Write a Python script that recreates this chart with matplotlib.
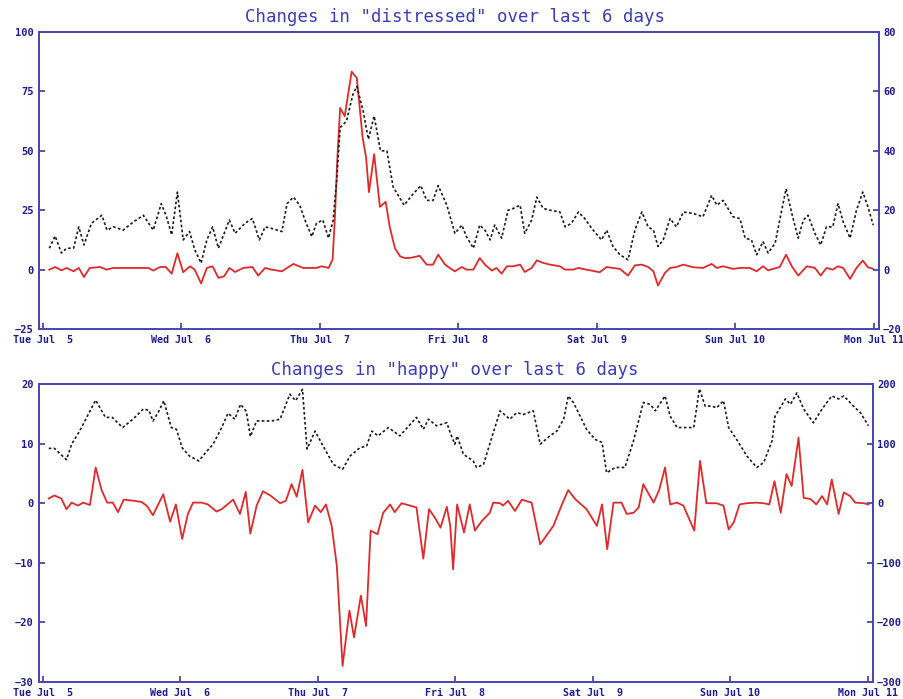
import numpy as np
import matplotlib
matplotlib.use('Agg')
import matplotlib.pyplot as plt

## eixo x: horas desde Tue Jul 5 00:00
dias = ['Tue Jul  5', 'Wed Jul  6', 'Thu Jul  7', 'Fri Jul  8',
        'Sat Jul  9', 'Sun Jul 10', 'Mon Jul 11']
horas_dias = [0, 24, 48, 72, 96, 120, 144]

## "distressed" - variacao (eixo esquerdo)
dist_h = [1.1, 2.1, 3.2, 4.1, 5.3, 6.2, 7.1, 8.1, 9.9, 11.0, 12.2, 18.3, 19.1, 20.3, 21.3,
          22.3, 23.3, 24.3, 25.5, 26.3, 27.4, 28.4, 29.4, 30.4, 31.4, 32.3, 33.3, 34.7,
          36.3, 37.3, 38.5, 39.6, 41.4, 43.4, 45.1, 47.4, 48.3, 49.5, 50.2, 50.6, 51.0,
          51.5, 52.3, 53.5, 54.4, 55.4, 56.0, 56.5, 57.4, 58.4, 59.4, 60.1, 61.0, 61.9,
          62.7, 63.6, 65.3, 66.5, 67.6, 68.5, 69.7, 70.5, 71.4, 72.6, 73.4, 74.6, 75.7,
          76.6, 77.8, 78.6, 79.5, 80.4, 81.5, 82.7, 83.5, 84.7, 85.6, 86.7, 87.9, 89.6,
          90.5, 91.9, 92.8, 94.2, 96.5, 97.7, 98.8, 100.0, 101.4, 102.6, 103.8, 104.9,
          105.8, 106.6, 107.8, 108.7, 109.8, 111.0, 112.7, 114.4, 115.9, 116.8, 117.9,
          119.6, 120.8, 122.5, 123.7, 124.8, 125.7, 127.7, 128.8, 129.8, 130.9, 132.4,
          133.8, 134.8, 135.8, 136.9, 137.8, 138.7, 139.9, 141.0, 142.1, 143.0, 143.9]
dist_v = [0, 1.1, -0.3, 0.7, -0.7, 0.7, -3.1, 0.7, 1.1, 0, 0.7, 0.7, -0.4, 1.1, 1.1,
          -1.7, 6.9, -1.1, 1.4, 0, -5.8, 0.7, 1.4, -3.5, -2.8, 0.7, -1.0, 0.7,
          1.1, -2.5, 0.7, 0, -0.7, 2.4, 0.7, 0.7, 1.4, 0.7, 4.2, 22.2, 45.8,
          68.0, 64.6, 83.3, 80.6, 55.6, 47.2, 32.6, 48.6, 26.4, 28.5, 18.0, 9.0, 5.6,
          4.9, 4.9, 5.8, 2.1, 2.1, 6.3, 2.1, 0.7, -0.7, 1.1, 0, 0, 4.9,
          2.1, -0.4, 0.7, -1.7, 1.4, 1.4, 2.1, -1.0, 0.7, 3.9, 2.8, 2.1, 1.4,
          0, 0, 0.7, 0, -1.1, 1.1, 0.7, 0.3, -2.5, 1.8, 2.1, 1.1,
          -0.7, -6.7, -1.4, 0.7, 1.1, 2.1, 1.0, 0.7, 2.4, 0.7, 1.4,
          0.3, 0.7, 0.7, -0.7, 1.4, -0.3, 1.1, 6.3, 1.4, -2.5, 1.4,
          0.7, -2.5, 0.7, 0, 1.4, 0.7, -3.9, 0.7, 3.8, 1.0, 0.3]

## "distressed" - volume (eixo direito)
dist_vol_h = [1.1, 2.1, 3.2, 4.1, 5.3, 6.2, 7.1, 8.4, 10.2, 11.1, 12.2, 13.9, 15.7, 17.4,
              19.1, 20.5, 21.4, 22.3, 23.3, 24.3, 25.4, 26.3, 27.4, 28.4, 29.4, 30.4,
              32.3, 33.3, 35.0, 36.3, 37.5, 38.5, 39.6, 41.4, 42.3, 43.4, 44.5, 45.4,
              46.6, 47.4, 48.5, 49.5, 50.3, 50.9, 51.5, 52.6, 53.7, 54.4, 55.5, 56.4,
              57.4, 58.5, 59.6, 60.7, 62.6, 64.2, 65.5, 66.5, 67.6, 68.5, 70.0, 71.4,
              72.6, 73.4, 74.6, 75.7, 76.6, 77.5, 78.3, 79.5, 80.6, 81.5, 82.7, 83.5,
              84.7, 85.6, 86.7, 87.9, 89.6, 90.5, 91.6, 92.8, 93.9, 95.1, 96.8, 97.7,
              98.8, 100.0, 101.4, 102.6, 103.8, 104.9, 105.8, 106.6, 107.5, 108.7,
              109.8, 111.0, 112.7, 114.4, 115.9, 116.8, 117.9, 119.6, 120.8, 121.7,
              122.8, 123.7, 124.8, 125.7, 126.9, 127.7, 128.8, 129.8, 130.9, 131.8,
              132.6, 133.8, 134.8, 135.8, 136.9, 137.8, 138.7, 139.9, 141.0, 142.1,
              143.0, 143.9]
dist_vol_v = [7.2, 11.3, 5.6, 7.2, 7.2, 14.4, 8.3, 15.6, 18.3, 13.3, 14.4, 13.3, 16.1, 18.3,
              13.3, 22.2, 17.8, 11.7, 26.1, 10.0, 12.8, 6.7, 2.2, 10.0, 14.4, 7.2,
              16.7, 12.2, 15.6, 17.2, 10.0, 14.4, 13.9, 12.8, 22.2, 24.4, 21.7, 16.7,
              11.1, 15.6, 16.7, 10.6, 16.7, 30.0, 47.8, 50.0, 58.9, 61.7, 53.3, 43.9,
              51.7, 40.0, 40.0, 27.8, 21.7, 25.6, 28.3, 23.3, 23.3, 28.3, 21.7, 12.2,
              15.0, 11.1, 7.2, 15.0, 13.3, 10.0, 15.0, 10.6, 20.0, 20.6, 21.7, 12.2,
              16.7, 24.4, 20.6, 20.0, 19.4, 14.4, 15.6, 19.4, 17.2, 13.9, 10.0, 13.3,
              7.8, 5.0, 3.3, 13.3, 19.4, 14.4, 13.3, 7.8, 10.0, 17.2,
              14.4, 19.4, 18.9, 17.8, 25.0, 21.7, 23.3, 17.8, 17.2, 10.6,
              10.0, 5.0, 9.4, 5.6, 8.9, 16.7, 27.2, 18.9, 10.6, 16.7,
              18.3, 12.2, 8.3, 14.4, 14.4, 22.2, 16.1, 10.6, 20.0, 26.1,
              21.1, 15.0]

## "happy" - variacao (eixo esquerdo)
happy_h = [1.0, 2.0, 3.2, 4.1, 5.0, 6.1, 7.0, 8.2, 9.2, 10.2, 11.2, 12.2, 13.1, 14.1, 16.0,
           17.2, 18.1, 19.2, 21.0, 22.2, 23.2, 24.3, 25.3, 26.2, 27.7, 28.8, 30.3, 31.2,
           33.2, 34.4, 35.4, 36.2, 37.3, 38.4, 39.7, 41.4, 42.4, 43.4, 44.3, 45.3, 46.3,
           47.5, 48.5, 49.4, 50.4, 51.3, 51.7, 52.3, 53.5, 54.3, 55.5, 56.4, 57.2, 58.4,
           59.4, 60.6, 61.4, 62.6, 64.1, 65.2, 66.4, 67.4, 68.4, 69.4, 70.5, 71.1, 71.6,
           72.3, 73.5, 74.5, 75.4, 76.6, 78.0, 78.6, 79.8, 80.3, 81.2, 82.4, 83.6, 85.3,
           86.8, 89.1, 90.6, 91.7, 92.9, 94.9, 96.7, 97.6, 98.5, 99.6, 101.0, 101.9,
           103.1, 104.0, 104.8, 106.6, 107.6, 108.6, 109.5, 110.7, 111.8, 113.7, 114.7,
           115.8, 117.6, 118.8, 119.7, 120.6, 121.6, 122.9, 124.6, 125.8, 126.8, 127.7,
           128.8, 129.8, 130.7, 131.9, 132.8, 134.0, 135.0, 136.0, 136.9, 137.7, 138.9,
           139.8, 140.9, 141.8, 143.3, 144.1]
happy_v = [0.8, 1.3, 0.8, -1.0, 0.1, -0.4, 0.1, -0.3, 6.0, 2.3, 0.1, 0.1, -1.5, 0.6, 0.4,
           0.2, -0.4, -2.0, 1.5, -3.1, -0.2, -6.0, -1.8, 0.1, 0.1, -0.2, -1.4, -1.0,
           0.6, -1.8, 1.9, -5.1, -0.4, 2.0, 1.3, 0, 0.4, 3.2, 1.1, 5.6, -3.2,
           -0.4, -1.5, -0.2, -3.8, -10.5, -17.2, -27.3, -18.0, -22.5, -15.5, -20.6, -4.6, -5.2,
           -1.6, -0.2, -1.5, 0, -0.4, -0.7, -9.3, -1.0, -2.4, -4.1, -0.6, -3.8, -11.1,
           -0.2, -4.9, -0.2, -4.6, -3.0, -1.6, 0.1, 0, -0.4, 0.4, -1.3, 0.6, 0.1,
           -6.9, -3.8, -0.2, 2.2, 0.7, -1.0, -3.8, -0.2, -7.7, 0.1, 0.1, -1.8,
           -1.6, -0.7, 3.2, 0.1, 2.3, 6.0, -0.2, 0.1, -0.4, -4.6, 7.1,
           0, 0, -0.4, -4.4, -3.2, -0.2, 0, 0.1, 0, -0.2, 3.7,
           -1.6, 4.9, 2.9, 11.0, 0.9, 0.7, -0.2, 1.2, -0.2, 4.0, -1.8,
           1.8, 1.2, 0.1, 0, -0.2]

## "happy" - volume (eixo direito)
happy_vol_h = [1.0, 2.0, 4.1, 5.0, 6.4, 7.9, 9.2, 10.9, 12.1, 13.9, 15.7, 17.5, 18.5, 19.2,
               20.1, 21.1, 22.4, 23.3, 24.3, 25.6, 27.2, 28.4, 29.7, 31.2, 32.3, 33.5,
               34.5, 35.5, 36.2, 37.3, 38.7, 39.9, 41.4, 43.1, 44.1, 45.3, 46.1, 47.5,
               48.9, 50.7, 52.3, 53.6, 55.3, 56.5, 57.4, 58.5, 60.3, 62.3, 65.2, 66.4,
               67.3, 68.7, 70.5, 71.1, 71.9, 72.3, 73.4, 75.1, 75.7, 76.9, 78.6, 79.8,
               81.5, 82.7, 83.9, 85.6, 86.8, 88.5, 89.7, 90.9, 91.7, 92.6, 94.9, 96.4,
               97.6, 98.4, 99.9, 101.6, 103.1, 104.8, 106.0, 106.9, 108.6, 109.5, 110.7,
               111.8, 113.6, 114.6, 115.6, 116.8, 117.6, 118.8, 119.7, 121.1, 122.9,
               124.6, 125.8, 127.3, 127.8, 129.6, 130.5, 131.6, 132.8, 134.5, 136.0,
               137.7, 138.9, 139.8, 141.8, 142.7, 144.1]
happy_vol_v = [92, 92, 73, 99, 121, 149, 173, 144, 144, 127, 141, 158, 156, 138,
               152, 172, 127, 124, 93, 79, 71, 85, 99, 127, 151, 141,
               166, 154, 112, 138, 138, 138, 141, 183, 172, 191, 91, 121,
               96, 65, 57, 79, 93, 96, 121, 113, 127, 113, 144, 124,
               141, 130, 135, 118, 99, 113, 82, 71, 60, 65, 118, 155,
               141, 152, 149, 155, 99, 113, 121, 141, 180, 169, 124, 107,
               102, 51, 60, 60, 105, 169, 166, 155, 180, 146, 127,
               127, 127, 192, 163, 163, 160, 172, 127, 107, 79,
               60, 68, 105, 146, 175, 166, 185, 158, 135, 158,
               180, 175, 180, 160, 152, 130]

cor_eixo = '#4848b0'
cor_texto = '#1c1c90'
cor_titulo = '#3c3cb8'
fonte = 'DejaVu Sans Mono'


def painel(rect, titulo, h1, v1, h2, v2, lim1, step1, lim2, step2, y_tit):
    ax = fig.add_axes(rect)
    ax2 = ax.twinx()
    ax.plot(h1, v1, color='#de2a2a', linewidth=1.3)
    ax2.plot(h2, v2, color='#1a1a1a', linewidth=1.2, linestyle=(0, (1.6, 1.4)))
    ax.set_xlim(-0.7, 144.9)
    ax.set_ylim(lim1)
    ax2.set_ylim(lim2)
    ax.set_yticks(np.arange(lim1[0], lim1[1] + 1, step1))
    ax2.set_yticks(np.arange(lim2[0], lim2[1] + 1, step2))
    ax.set_xticks(horas_dias)
    ax.set_xticklabels(dias)
    for a in (ax, ax2):
        for s in a.spines.values():
            s.set_color(cor_eixo)
            s.set_linewidth(1.3)
        a.tick_params(direction='in', length=4, width=1.3, color=cor_eixo,
                      labelcolor=cor_texto, labelsize=7.5)
        for t in a.get_xticklabels() + a.get_yticklabels():
            t.set_fontfamily(fonte)
            t.set_fontweight('bold')
    ax.tick_params(axis='x', labelsize=7.2, pad=4)
    ax.tick_params(axis='y', pad=4)
    ax2.tick_params(axis='y', pad=3)
    fig.text(0.503, y_tit, titulo, ha='center', va='center', fontsize=12.5,
             color=cor_titulo, family=fonte)
    return ax, ax2


fig = plt.figure(figsize=(9.04, 6.99), dpi=100)

painel([0.0431, 0.5293, 0.9292, 0.4249], 'Changes in "distressed" over last 6 days',
       dist_h, dist_v, dist_vol_h, dist_vol_v, (-25, 100), 25, (-20, 80), 20, 0.976)
painel([0.0431, 0.0243, 0.9226, 0.4263], 'Changes in "happy" over last 6 days',
       happy_h, happy_v, happy_vol_h, happy_vol_v, (-30, 20), 10, (-300, 200), 100, 0.471)

fig.savefig('out.png', dpi=100)
